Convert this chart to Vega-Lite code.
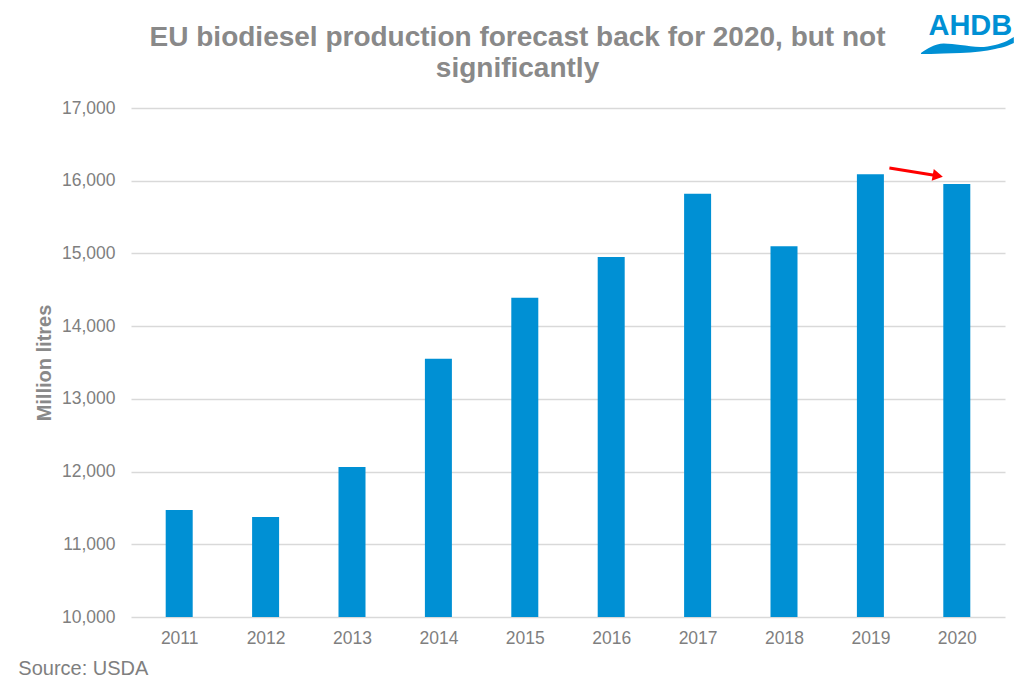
{
  "$schema": "https://vega.github.io/schema/vega-lite/v6.json",
  "width": 874,
  "height": 509,
  "autosize": {"type": "none"},
  "padding": {"left": 131, "top": 108, "right": 24, "bottom": 70},
  "background": "white",
  "config": {
    "view": {"stroke": null},
    "font": "Liberation Sans"
  },
  "datasets": {
    "bars": [
      {"year": 2011, "value": 11470},
      {"year": 2012, "value": 11375},
      {"year": 2013, "value": 12063},
      {"year": 2014, "value": 13550},
      {"year": 2015, "value": 14390},
      {"year": 2016, "value": 14950},
      {"year": 2017, "value": 15820},
      {"year": 2018, "value": 15100},
      {"year": 2019, "value": 16090},
      {"year": 2020, "value": 15955}
    ],
    "arrow": [
      {"x": 2019.22, "y": 16176, "x2": 2019.74, "y2": 16075}
    ],
    "arrowhead": [
      {"x": 2019.78, "y": 16068}
    ],
    "wave": [
      {"x": 2019.585, "top": 17758, "bottom": 17744},
      {"x": 2019.699, "top": 17840, "bottom": 17744},
      {"x": 2019.848, "top": 17888, "bottom": 17751},
      {"x": 2020.042, "top": 17868, "bottom": 17758},
      {"x": 2020.271, "top": 17840, "bottom": 17778},
      {"x": 2020.443, "top": 17868, "bottom": 17813},
      {"x": 2020.580, "top": 17923, "bottom": 17854},
      {"x": 2020.660, "top": 17978, "bottom": 17895}
    ],
    "logo": [{"x": 2020.157, "y": 18005, "t": "AHDB"}],
    "heading": [{"x": 2014.916, "y": 17854, "t": "EU biodiesel production forecast back for 2020, but not\nsignificantly"}],
    "source": [{"x": 2009.138, "y": 9202, "t": "Source: USDA"}]
  },
  "layer": [
    {
      "data": {"name": "bars"},
      "mark": {"type": "bar", "color": "#0090d4", "size": 27},
      "encoding": {
        "x": {
          "field": "year",
          "type": "quantitative",
          "scale": {"domain": [2010.5, 2020.5], "nice": false, "zero": false},
          "axis": {
            "values": [2011, 2012, 2013, 2014, 2015, 2016, 2017, 2018, 2019, 2020],
            "format": "d",
            "title": null,
            "grid": false,
            "ticks": false,
            "domain": false,
            "labelFontSize": 17.5,
            "labelColor": "#7f7f7f",
            "labelPadding": 12,
            "labelFont": "Liberation Sans"
          }
        },
        "y": {
          "field": "value",
          "type": "quantitative",
          "scale": {"domain": [10000, 17000], "nice": false, "zero": false},
          "axis": {
            "values": [10000, 11000, 12000, 13000, 14000, 15000, 16000, 17000],
            "format": ",.0f",
            "title": "Million litres",
            "titleFontSize": 20,
            "titleFontWeight": "bold",
            "titleColor": "#898989",
            "titlePadding": 7,
            "titleFont": "Liberation Sans",
            "grid": true,
            "gridColor": "#d9d9d9",
            "gridWidth": 1.3,
            "ticks": false,
            "domain": false,
            "labelFontSize": 17.5,
            "labelColor": "#7f7f7f",
            "labelPadding": 16,
            "labelFont": "Liberation Sans"
          }
        },
        "y2": {"datum": 10000}
      }
    },
    {
      "data": {"name": "arrow"},
      "mark": {"type": "rule", "color": "#ff0000", "strokeWidth": 3},
      "encoding": {
        "x": {"field": "x", "type": "quantitative"},
        "y": {"field": "y", "type": "quantitative"},
        "x2": {"field": "x2"},
        "y2": {"field": "y2"}
      }
    },
    {
      "data": {"name": "arrowhead"},
      "mark": {"type": "point", "shape": "triangle-right", "filled": true, "color": "#ff0000", "opacity": 1, "size": 140, "angle": 10},
      "encoding": {
        "x": {"field": "x", "type": "quantitative"},
        "y": {"field": "y", "type": "quantitative"}
      }
    },
    {
      "data": {"name": "wave"},
      "mark": {"type": "area", "color": "#0090d4", "interpolate": "monotone", "opacity": 1},
      "encoding": {
        "x": {"field": "x", "type": "quantitative"},
        "y": {"field": "top", "type": "quantitative"},
        "y2": {"field": "bottom"}
      }
    },
    {
      "data": {"name": "logo"},
      "mark": {"type": "text", "color": "#0090d4", "fontSize": 29, "fontWeight": "bold", "font": "Liberation Sans", "align": "center", "baseline": "alphabetic"},
      "encoding": {
        "x": {"field": "x", "type": "quantitative"},
        "y": {"field": "y", "type": "quantitative"},
        "text": {"field": "t"}
      }
    },
    {
      "data": {"name": "heading"},
      "mark": {"type": "text", "color": "#898989", "fontSize": 28, "fontWeight": "bold", "font": "Liberation Sans", "align": "center", "baseline": "alphabetic", "lineBreak": "\n", "lineHeight": 31},
      "encoding": {
        "x": {"field": "x", "type": "quantitative"},
        "y": {"field": "y", "type": "quantitative"},
        "text": {"field": "t"}
      }
    },
    {
      "data": {"name": "source"},
      "mark": {"type": "text", "color": "#7f7f7f", "fontSize": 20, "font": "Liberation Sans", "align": "left", "baseline": "alphabetic"},
      "encoding": {
        "x": {"field": "x", "type": "quantitative"},
        "y": {"field": "y", "type": "quantitative"},
        "text": {"field": "t"}
      }
    }
  ]
}
